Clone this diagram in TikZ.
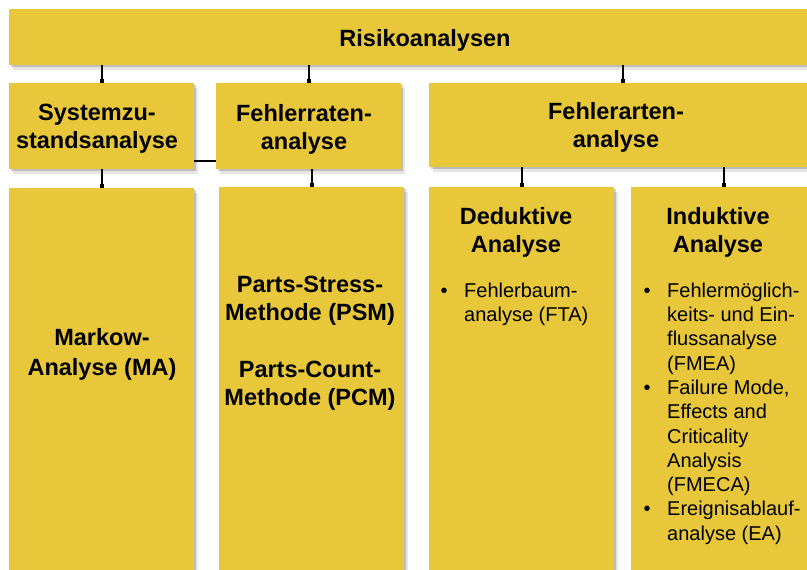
\documentclass[tikz,border=0pt]{standalone}
\usepackage{fontspec}
\setmainfont{Liberation Sans}
\usetikzlibrary{shadows,arrows.meta}
\definecolor{boxyellow}{RGB}{232,200,58}
\begin{document}
\begin{tikzpicture}[x=1pt,y=-1pt,
	box/.style={fill=boxyellow,inner sep=0pt,minimum width=185pt,
		general shadow={shadow xshift=2pt,shadow yshift=-2pt,fill=black,opacity=.18},
		general shadow={shadow xshift=4pt,shadow yshift=-5pt,fill=black,opacity=.1}},
	head/.style={font=\fontsize{23.5}{28}\selectfont\bfseries,align=center,inner sep=0pt},
	list/.style={font=\fontsize{20}{24.3}\selectfont,anchor=north west,inner sep=0pt},
	link/.style={line width=2pt,-{Square[length=3.5pt,width=4pt]}}]
	\useasboundingbox (0,0) rectangle (807,570);
	\clip (0,0) rectangle (807,570);
	% boxes
	\node[box,minimum width=832pt,minimum height=56pt] (risk) at (425,37) {};
	\node[box,minimum height=86pt] (sys) at (101.5,126) {};
	\node[box,minimum height=86pt] (rate) at (308.5,126) {};
	\node[box,minimum width=387pt,minimum height=84pt] (type) at (622.5,125) {};
	\node[box,minimum height=420pt] (markow) at (101.5,398) {};
	\node[box,minimum height=420pt] (psm) at (311.5,397) {};
	\node[box,minimum height=420pt] (ded) at (521.5,397) {};
	\node[box,minimum height=420pt] (ind) at (723.5,397) {};
	% texts
	\node[head] (risktext) at (425,40) {Risikoanalysen};
	\node[head] (systext) at (97,129) {Systemzu-\\standsanalyse};
	\node[head] (ratetext) at (304,129) {Fehlerraten-\\analyse};
	\node[head] (typetext) at (616,127) {Fehlerarten-\\analyse};
	\node[head] (markowtext) at (102,354) {Markow-\\[2pt]Analyse (MA)};
	\node[head] (psmtext) at (310,301) {Parts-Stress-\\Methode (PSM)};
	\node[head] (pcmtext) at (310,385.5) {Parts-Count-\\Methode (PCM)};
	\node[head] (dedtext) at (516,232) {Deduktive\\Analyse};
	\node[head] (indtext) at (718,232) {Induktive\\Analyse};
	\node[list] (dedlist) at (440.5,280) {\begin{tabular}{@{}p{23.5pt}@{}l@{}}
		\textbullet & Fehlerbaum-\\ & analyse (FTA)\end{tabular}};
	\node[list] (indlist) at (643.5,280) {\begin{tabular}{@{}p{23.5pt}@{}l@{}}
		\textbullet & Fehlermöglich-\\ & keits- und Ein-\\ & flussanalyse\\ & (FMEA)\\
		\textbullet & Failure Mode,\\ & Effects and\\ & Criticality\\ & Analysis\\ & (FMECA)\\
		\textbullet & Ereignisablauf-\\ & analyse (EA)\end{tabular}};
	% connectors
	\foreach \a/\b in {risk/sys,risk/rate,risk/type,sys/markow,rate/psm,type/ded,type/ind}
		\draw[link] (\a.south -| \b.north) -- (\b.north);
	\draw[line width=2pt] ([yshift=-35pt]sys.east) -- ([yshift=-35pt]rate.west);
\end{tikzpicture}
\end{document}
